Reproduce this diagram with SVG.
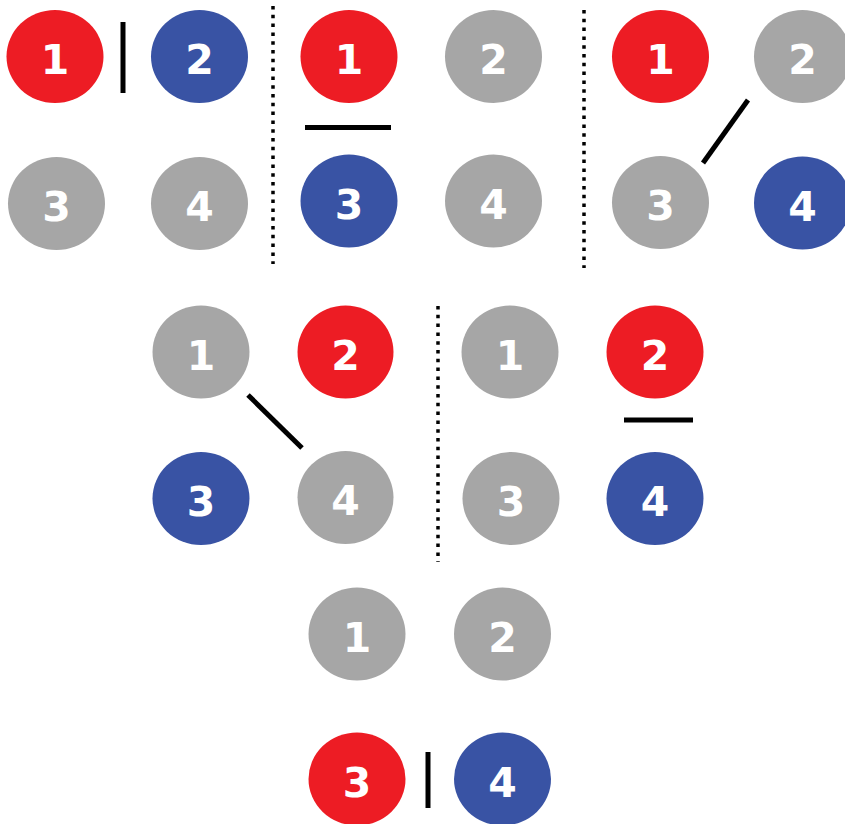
<svg xmlns="http://www.w3.org/2000/svg" width="845" height="824" viewBox="0 0 845 824">
<style>
.red{fill:#ED1C24}
.blue{fill:#3953A4}
.gray{fill:#A6A6A6}
.lbl{fill:#FFFFFF;font-family:"DejaVu Sans","Liberation Sans",sans-serif;font-weight:bold;font-size:41px;text-anchor:middle}
.bar{stroke:#000000;stroke-width:5;fill:none}
.sep{stroke:#000000;stroke-width:3.5;stroke-dasharray:3.5 5.3;fill:none}
</style>
<rect width="845" height="824" fill="#FFFFFF"/>
<g id="separators">
<line class="sep" x1="273" y1="6" x2="273" y2="264"/>
<line class="sep" x1="584" y1="10" x2="584" y2="268"/>
<line class="sep" x1="438" y1="306" x2="438" y2="562"/>
</g>
<g id="connectors">
<line class="bar" x1="123" y1="22" x2="123" y2="93"/>
<line class="bar" x1="305" y1="127.5" x2="391" y2="127.5"/>
<line class="bar" x1="748" y1="100" x2="703" y2="163"/>
<line class="bar" x1="248" y1="395" x2="302" y2="448"/>
<line class="bar" x1="624" y1="420" x2="693" y2="420"/>
<line class="bar" x1="428" y1="752" x2="428" y2="808"/>
</g>
<g id="a1"><ellipse class="red" cx="55" cy="56.5" rx="48.5" ry="46.5"/><text class="lbl" x="55" y="74">1</text></g>
<g id="a2"><ellipse class="blue" cx="199.5" cy="56.5" rx="48.5" ry="46.5"/><text class="lbl" x="199.5" y="74">2</text></g>
<g id="a3"><ellipse class="gray" cx="56.5" cy="203.5" rx="48.5" ry="46.5"/><text class="lbl" x="56.5" y="221">3</text></g>
<g id="a4"><ellipse class="gray" cx="199.5" cy="203.5" rx="48.5" ry="46.5"/><text class="lbl" x="199.5" y="221">4</text></g>
<g id="b1"><ellipse class="red" cx="349" cy="56.5" rx="48.5" ry="46.5"/><text class="lbl" x="349" y="74">1</text></g>
<g id="b2"><ellipse class="gray" cx="493.5" cy="56.5" rx="48.5" ry="46.5"/><text class="lbl" x="493.5" y="74">2</text></g>
<g id="b3"><ellipse class="blue" cx="349" cy="201" rx="48.5" ry="46.5"/><text class="lbl" x="349" y="218.5">3</text></g>
<g id="b4"><ellipse class="gray" cx="493.5" cy="201" rx="48.5" ry="46.5"/><text class="lbl" x="493.5" y="218.5">4</text></g>
<g id="c1"><ellipse class="red" cx="660.5" cy="56.5" rx="48.5" ry="46.5"/><text class="lbl" x="660.5" y="74">1</text></g>
<g id="c2"><ellipse class="gray" cx="802.5" cy="56.5" rx="48.5" ry="46.5"/><text class="lbl" x="802.5" y="74">2</text></g>
<g id="c3"><ellipse class="gray" cx="660.5" cy="202.5" rx="48.5" ry="46.5"/><text class="lbl" x="660.5" y="220">3</text></g>
<g id="c4"><ellipse class="blue" cx="802.5" cy="203" rx="48.5" ry="46.5"/><text class="lbl" x="802.5" y="220.5">4</text></g>
<g id="d1"><ellipse class="gray" cx="201" cy="352" rx="48.5" ry="46.5"/><text class="lbl" x="201" y="369.5">1</text></g>
<g id="d2"><ellipse class="red" cx="345.5" cy="352" rx="48" ry="46.5"/><text class="lbl" x="345.5" y="369.5">2</text></g>
<g id="d3"><ellipse class="blue" cx="201" cy="498.5" rx="48.5" ry="46.5"/><text class="lbl" x="201" y="516">3</text></g>
<g id="d4"><ellipse class="gray" cx="345.5" cy="497.5" rx="48" ry="46.5"/><text class="lbl" x="345.5" y="515">4</text></g>
<g id="e1"><ellipse class="gray" cx="510" cy="352" rx="48.5" ry="46.5"/><text class="lbl" x="510" y="369.5">1</text></g>
<g id="e2"><ellipse class="red" cx="655" cy="352" rx="48.5" ry="46.5"/><text class="lbl" x="655" y="369.5">2</text></g>
<g id="e3"><ellipse class="gray" cx="511" cy="498.5" rx="48.5" ry="46.5"/><text class="lbl" x="511" y="516">3</text></g>
<g id="e4"><ellipse class="blue" cx="655" cy="498.5" rx="48.5" ry="46.5"/><text class="lbl" x="655" y="516">4</text></g>
<g id="f1"><ellipse class="gray" cx="357" cy="634" rx="48.5" ry="46.5"/><text class="lbl" x="357" y="651.5">1</text></g>
<g id="f2"><ellipse class="gray" cx="502.5" cy="634" rx="48.5" ry="46.5"/><text class="lbl" x="502.5" y="651.5">2</text></g>
<g id="f3"><ellipse class="red" cx="357" cy="779" rx="48.5" ry="46.5"/><text class="lbl" x="357" y="796.5">3</text></g>
<g id="f4"><ellipse class="blue" cx="502.5" cy="779" rx="48.5" ry="46.5"/><text class="lbl" x="502.5" y="796.5">4</text></g>
</svg>
